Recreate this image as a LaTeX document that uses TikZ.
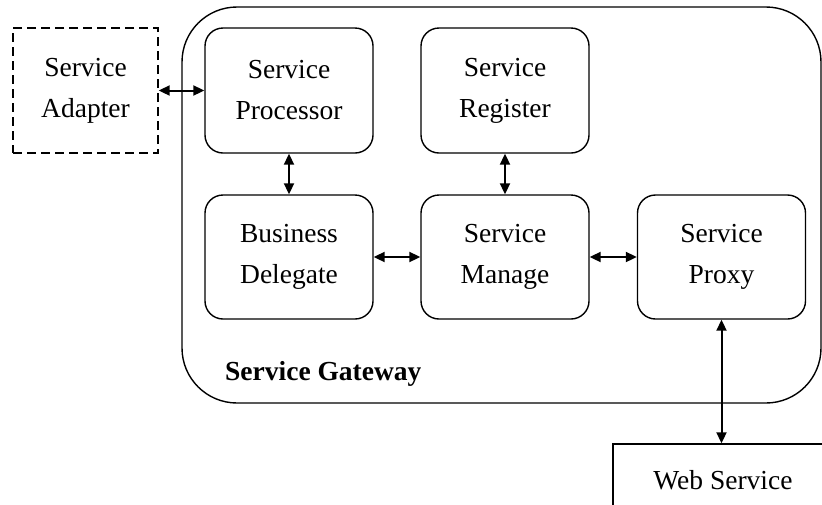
\documentclass[tikz,border=0pt]{standalone}
\usepackage{fontspec}
\setmainfont{Liberation Serif}
\usetikzlibrary{arrows.meta}
\tikzset{
  box/.style={draw, line width=1.4pt, rounded corners=18pt, minimum width=168pt, minimum height=125pt, inner sep=0pt, align=center, font=\fontsize{27.5}{41}\selectfont},
  dashbox/.style={draw, line width=1.4pt, dash pattern=on 9pt off 5pt, minimum width=145pt, minimum height=125pt, inner sep=0pt, align=center, font=\fontsize{27.5}{41}\selectfont},
  plainbox/.style={draw, line width=1.4pt, minimum width=220pt, minimum height=72pt, inner sep=0pt, align=center, font=\fontsize{27.5}{41}\selectfont},
  arr/.style={line width=2pt, {Triangle[length=11pt,width=10pt]}-{Triangle[length=11pt,width=10pt]}},
  gate/.style={draw, line width=1.4pt, rounded corners=55pt}
}
\begin{document}
\begin{tikzpicture}[x=1pt,y=-1pt]
\useasboundingbox (0,0) rectangle (822,504);
\clip (0,0) rectangle (822,504);
\draw[gate] (182,7) rectangle (821,403);
\node[dashbox] (adapter) at (85.5,90.5) {Service\\Adapter};
\node[box] (proc) at (289,90.5) {Service\\Processor};
\node[box] (reg) at (505,90.5) {Service\\Register};
\node[box, minimum height=124pt] (bus) at (289,257) {Business\\Delegate};
\node[box, minimum height=124pt] (man) at (505,257) {Service\\Manage};
\node[box, minimum height=124pt] (proxy) at (721.5,257) {Service\\Proxy};
\node[plainbox] (web) at (723,480) {Web Service};
\node[anchor=base west, inner sep=0pt, font=\fontsize{27.5}{32}\selectfont\bfseries] (gwlabel) at (225,380) {Service Gateway};
\draw[arr] (adapter.east) -- (proc.west);
\draw[arr] (proc.south) -- (bus.north);
\draw[arr] (reg.south) -- (man.north);
\draw[arr] (bus.east) -- (man.west);
\draw[arr] (man.east) -- (proxy.west);
\draw[arr] (proxy.south) -- (proxy.south |- web.north);
\end{tikzpicture}
\end{document}
